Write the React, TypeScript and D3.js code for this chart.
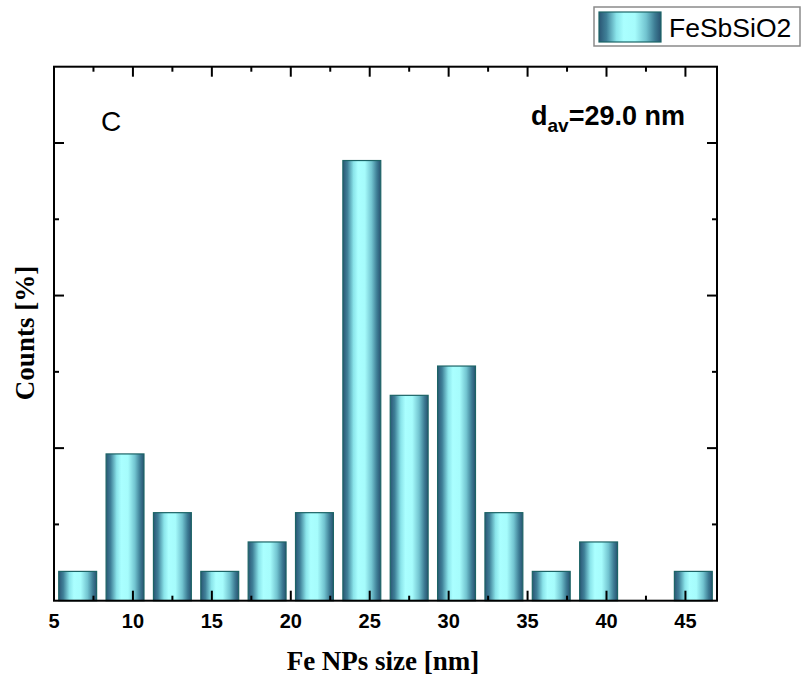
import React from 'react';
import * as d3 from 'd3';

// bin centers (nm) and percentage of particles per bin
const binCenters = [6.5, 9.5, 12.5, 15.5, 18.5, 21.5, 24.5, 27.5, 30.5, 33.5, 36.5, 39.5, 42.5, 45.5];
const percents = [1.92, 9.62, 5.77, 1.92, 3.85, 5.77, 28.85, 13.46, 15.38, 5.77, 1.92, 3.85, 0, 1.92];
const xMajor = [5, 10, 15, 20, 25, 30, 35, 40, 45];
const xMinor = [7.5, 12.5, 17.5, 22.5, 27.5, 32.5, 37.5, 42.5];
const yMajor = [10, 20, 30];
const yMinor = [5, 15, 25];
const seriesName = 'FeSbSiO2';

const W = 802;
const H = 679;
const plot = { left: 54, right: 717, top: 66.7, bottom: 600.7 };
const binWidth = 3;

const sans = '"Liberation Sans", Arial, sans-serif';
const serif = '"Liberation Serif", "Times New Roman", serif';

export default function App() {
  const x = d3.scaleLinear().domain([5, 47]).range([plot.left, plot.right]);
  const y = d3.scaleLinear().domain([0, 35]).range([plot.bottom, plot.top]);
  const barW = x(5 + binWidth * 0.8) - x(5);

  const major = 10;
  const minor = 5;

  return (
    <svg width={W} height={H} style={{ position: 'absolute', left: 0, top: 0 }}>
      <defs>
        <linearGradient id="barGrad" x1="0" x2="1" y1="0" y2="0">
          <stop offset="0%" stopColor="#2a5674" />
          <stop offset="12%" stopColor="#3f8098" />
          <stop offset="28%" stopColor="#8ae4ea" />
          <stop offset="40%" stopColor="#aaffff" />
          <stop offset="58%" stopColor="#a6fcfc" />
          <stop offset="76%" stopColor="#72c4d0" />
          <stop offset="90%" stopColor="#3d7c94" />
          <stop offset="100%" stopColor="#285270" />
        </linearGradient>
      </defs>
      <rect width={W} height={H} fill="#fff" />

      {/* bars */}
      {binCenters.map((c, i) =>
        percents[i] > 0 ? (
          <rect
            key={c}
            x={x(c) - barW / 2}
            y={y(percents[i])}
            width={barW}
            height={y(0) - y(percents[i])}
            fill="url(#barGrad)"
            stroke="#1c6466"
            strokeWidth={1.2}
          />
        ) : null
      )}

      {/* frame */}
      <rect
        x={plot.left}
        y={plot.top}
        width={plot.right - plot.left}
        height={plot.bottom - plot.top}
        fill="none"
        stroke="#000"
        strokeWidth={2}
      />

      {/* x ticks, bottom and top, inward */}
      {xMajor.map(t => (
        <g key={'xM' + t}>
          <line x1={x(t)} x2={x(t)} y1={plot.bottom} y2={plot.bottom - major} stroke="#000" strokeWidth={2} />
          <line x1={x(t)} x2={x(t)} y1={plot.top} y2={plot.top + major} stroke="#000" strokeWidth={2} />
          <text x={x(t)} y={628} textAnchor="middle" fontFamily={sans} fontWeight="bold" fontSize={20}>
            {t}
          </text>
        </g>
      ))}
      {xMinor.map(t => (
        <g key={'xm' + t}>
          <line x1={x(t)} x2={x(t)} y1={plot.bottom} y2={plot.bottom - minor} stroke="#000" strokeWidth={2} />
          <line x1={x(t)} x2={x(t)} y1={plot.top} y2={plot.top + minor} stroke="#000" strokeWidth={2} />
        </g>
      ))}

      {/* y ticks, left and right, inward, no labels */}
      {yMajor.map(t => (
        <g key={'yM' + t}>
          <line x1={plot.left} x2={plot.left + major} y1={y(t)} y2={y(t)} stroke="#000" strokeWidth={2} />
          <line x1={plot.right} x2={plot.right - major} y1={y(t)} y2={y(t)} stroke="#000" strokeWidth={2} />
        </g>
      ))}
      {yMinor.map(t => (
        <g key={'ym' + t}>
          <line x1={plot.left} x2={plot.left + minor} y1={y(t)} y2={y(t)} stroke="#000" strokeWidth={2} />
          <line x1={plot.right} x2={plot.right - minor} y1={y(t)} y2={y(t)} stroke="#000" strokeWidth={2} />
        </g>
      ))}

      {/* axis titles */}
      <text x={383} y={670} textAnchor="middle" fontFamily={serif} fontWeight="bold" fontSize={27}>
        Fe NPs size [nm]
      </text>
      <text
        transform={`translate(34,${333}) rotate(-90)`}
        textAnchor="middle"
        fontFamily={serif}
        fontWeight="bold"
        fontSize={27}
      >
        Counts [%]
      </text>

      {/* panel label and annotation */}
      <text x={101} y={131} fontFamily={sans} fontSize={28}>
        C
      </text>
      <text x={685} y={125} textAnchor="end" fontFamily={sans} fontWeight="bold" fontSize={27}>
        d
        <tspan fontSize={19} dy={7}>av</tspan>
        <tspan dy={-7}>=29.0 nm</tspan>
      </text>

      {/* legend */}
      <rect x={594} y={7} width={206} height={39} fill="#fff" stroke="#8a8a8a" strokeWidth={1.5} />
      <rect x={599} y={12} width={62} height={30} fill="url(#barGrad)" stroke="#1c6466" strokeWidth={1.2} />
      <text x={669} y={37} fontFamily={sans} fontSize={26.5}>
        {seriesName}
      </text>
    </svg>
  );
}
